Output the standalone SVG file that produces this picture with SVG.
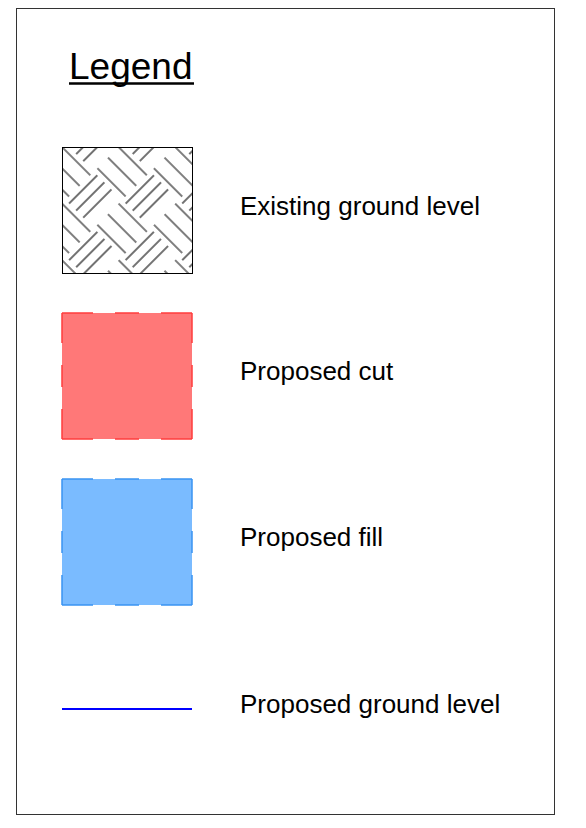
<svg xmlns="http://www.w3.org/2000/svg" width="586" height="828" viewBox="0 0 586 828">
  <style>
    .lbl { font-family: "Liberation Sans", Arial, sans-serif; font-size: 26px; fill: #000; }
    .title { font-family: "Liberation Sans", Arial, sans-serif; font-size: 37px; fill: #000; }
    .cut { fill: #FF7878; }
    .cutEdge { stroke: #FF3C3C; stroke-width: 1.5; fill: none; }
    .fill { fill: #7ABBFF; }
    .fillEdge { stroke: #3A94F2; stroke-width: 1.5; fill: none; }
    .h { stroke-dasharray: 31 22 24 22 31; }
    .v { stroke-dasharray: 30 22 22 22 30; }
  </style>
  <defs>
    <pattern id="earth" width="80" height="80" patternUnits="userSpaceOnUse" patternTransform="translate(62 147) rotate(45)">
      <path fill="none" stroke="#000" stroke-width="1.1"
        d="M0 0H40 M0 80H40 M0 15H40 M0 30H40
           M40 40H80 M40 55H80 M40 70H80
           M5 35V75 M15 35V75 M25 35V75
           M45 -5V35 M55 -5V35 M65 -5V35
           M45 75V85 M55 75V85 M65 75V85"/>
    </pattern>
  </defs>
  <rect width="586" height="828" fill="#fff"/>
  <g id="frame">
    <rect x="16.5" y="8.5" width="538" height="806" fill="none" stroke="#333" stroke-width="1"/>
  </g>
  <g id="title">
    <text class="title" x="69" y="79">Legend</text>
    <line x1="69" y1="83.5" x2="194" y2="83.5" stroke="#000" stroke-width="2.5"/>
  </g>
  <g id="existing">
    <rect x="62.5" y="147.5" width="130" height="126" fill="url(#earth)" stroke="#000" stroke-width="1"/>
    <text class="lbl" x="240" y="215">Existing ground level</text>
  </g>
  <g id="cut">
    <rect class="cut" x="62" y="313" width="130" height="126"/>
    <line class="cutEdge h" x1="62" y1="313" x2="192" y2="313"/>
    <line class="cutEdge h" x1="62" y1="439" x2="192" y2="439"/>
    <line class="cutEdge v" x1="62" y1="313" x2="62" y2="439"/>
    <line class="cutEdge v" x1="192" y1="313" x2="192" y2="439"/>
    <text class="lbl" x="240" y="380">Proposed cut</text>
  </g>
  <g id="fill">
    <rect class="fill" x="62" y="479" width="130" height="126"/>
    <line class="fillEdge h" x1="62" y1="479" x2="192" y2="479"/>
    <line class="fillEdge h" x1="62" y1="605" x2="192" y2="605"/>
    <line class="fillEdge v" x1="62" y1="479" x2="62" y2="605"/>
    <line class="fillEdge v" x1="192" y1="479" x2="192" y2="605"/>
    <text class="lbl" x="240" y="546">Proposed fill</text>
  </g>
  <g id="ground">
    <line x1="62" y1="709" x2="192" y2="709" stroke="#0000FF" stroke-width="2"/>
    <text class="lbl" x="240" y="713">Proposed ground level</text>
  </g>
</svg>
